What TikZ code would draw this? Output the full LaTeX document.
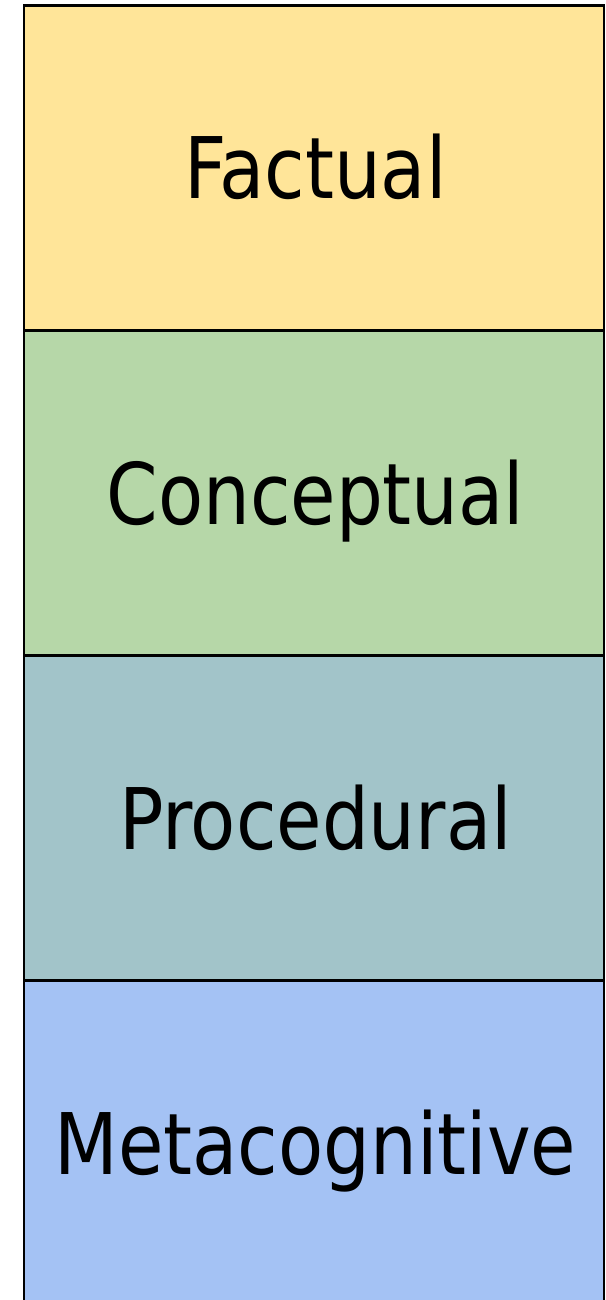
\documentclass[tikz,border=0pt]{standalone}
\usepackage{fontspec}
\setmainfont[FakeStretch=0.965]{DejaVu Sans Condensed}
\usetikzlibrary{positioning}
\definecolor{factual}{RGB}{255,229,153}
\definecolor{conceptual}{RGB}{182,215,168}
\definecolor{procedural}{RGB}{162,196,201}
\definecolor{metacog}{RGB}{164,194,244}

\begin{document}
\begin{tikzpicture}[x=1pt, y=-1pt, node distance = 0pt]
  \tikzstyle{band} = [rectangle, draw, line width=2.5pt, text = black,
      minimum width=580pt, minimum height=325pt, outer sep=0pt, inner sep=0pt,
      font=\fontsize{85}{95}\selectfont, text height=62pt, text depth=0pt,
      xshift=0pt]
  \clip (0,0) rectangle (605,1300);
      % Place nodes
      \node [band, fill=factual] (fact) at (314,168) {\hspace*{3pt}Factual};
      \node [band, fill=conceptual, below=of fact] (concept) {\hspace*{3pt}Conceptual};
      \node [band, fill=procedural, below=of concept] (proc) {\hspace*{3pt}Procedural};
      \node [band, fill=metacog, below=of proc] (meta) {\hspace*{3pt}Metacognitive};
  \end{tikzpicture}
\end{document}
